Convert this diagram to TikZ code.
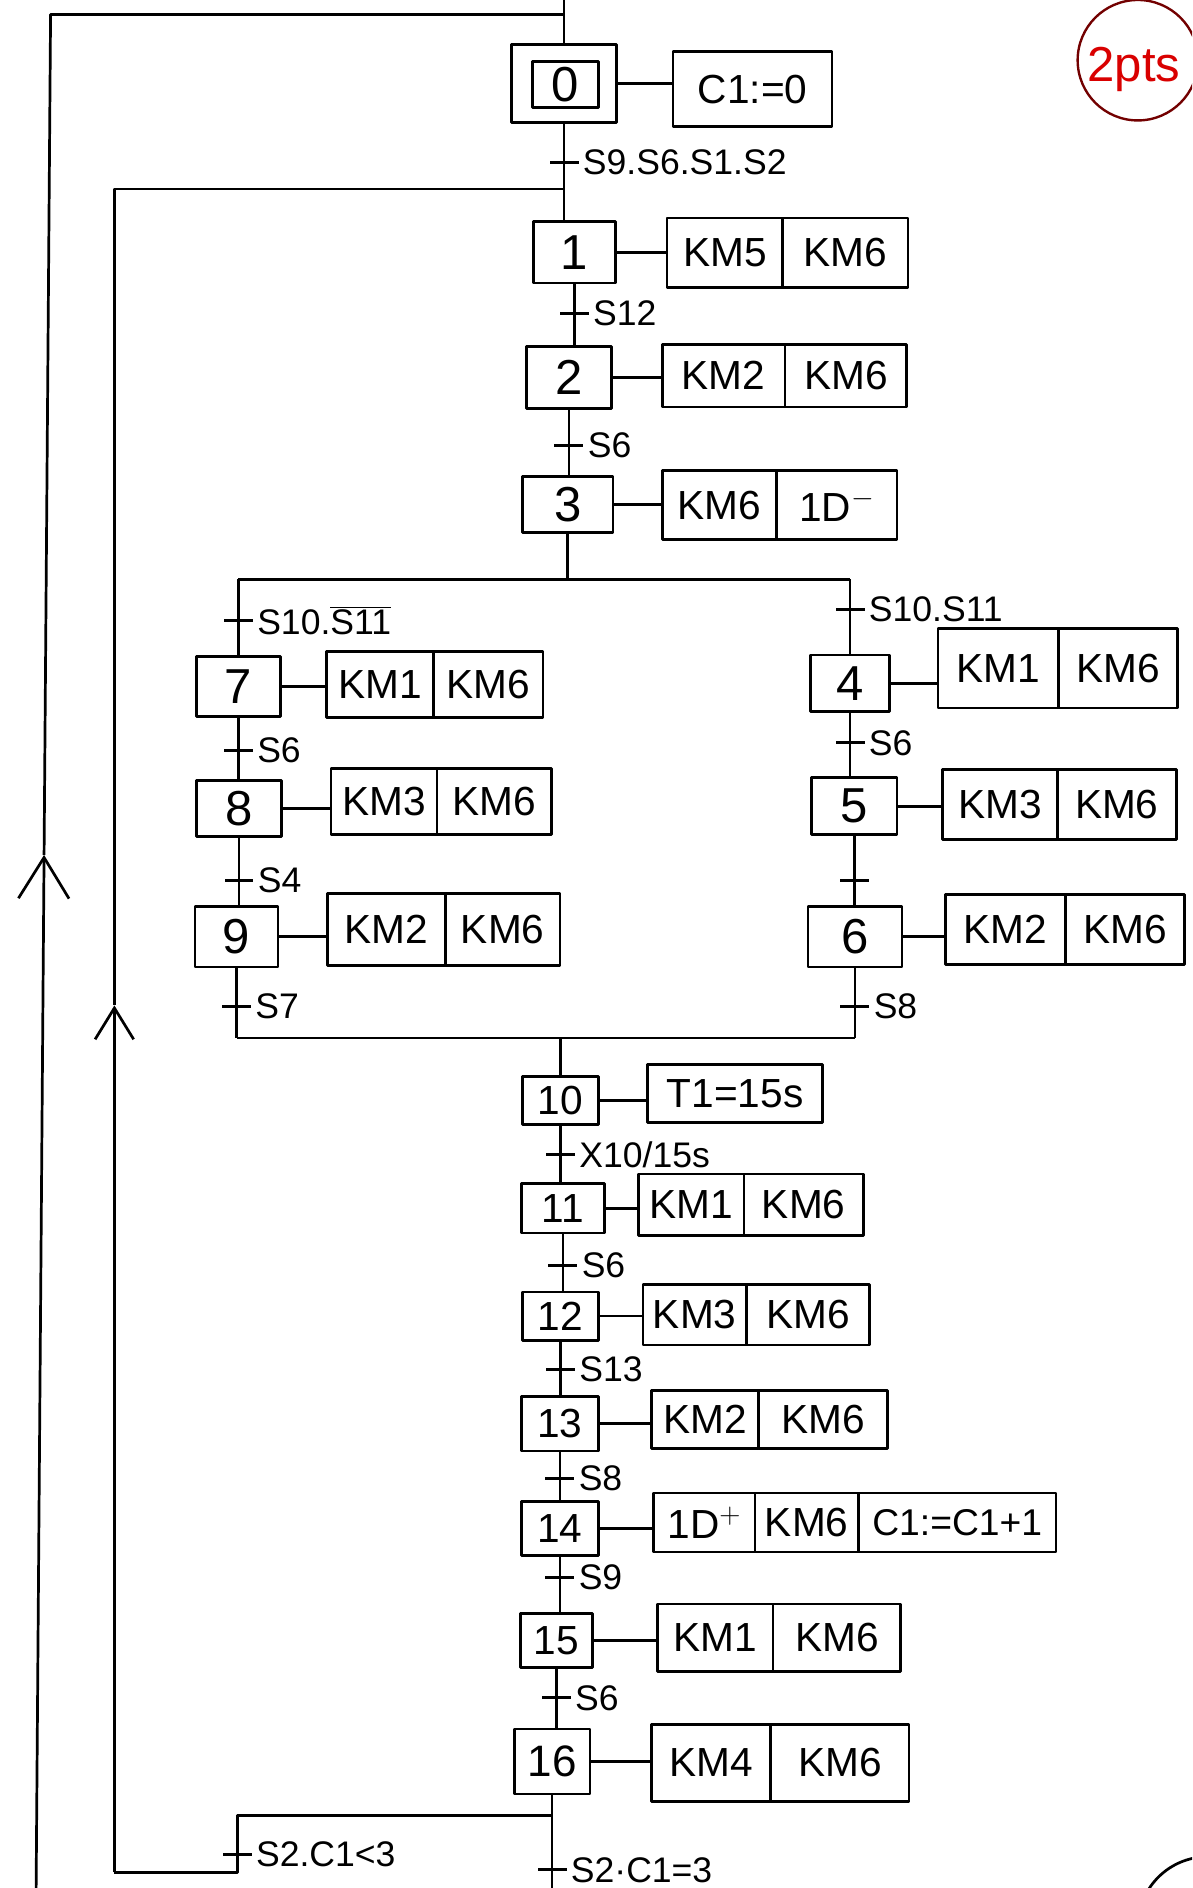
\documentclass[tikz,border=0pt]{standalone}
\usepackage{fontspec}
\setmainfont{Liberation Sans}
\usetikzlibrary{arrows.meta,calc}
\newcommand{\gstep}[6]{\node[stepbox, minimum width={(#4-#2)*0.025cm}, minimum height={(#5-#3)*0.025cm}] (#1) at ({(#2+#4)/2},{(#3+#5)/2}) {#6};}
\newcommand{\gact}[6]{\node[actbox, minimum width={(#4-#2)*0.025cm}, minimum height={(#5-#3)*0.025cm}] (#1) at ({(#2+#4)/2},{(#3+#5)/2}) {#6};}
\newcommand{\gtr}[4]{\node[trbar] (#1) at (#2,#3) {}; \node[trlab] (#1l) at (#1.east) {#4};}
\tikzset{
  stepbox/.style={draw, rectangle, line width=1.6pt, inner sep=0pt, font=\fontsize{29}{32}\selectfont},
  bigstep/.style={font=\fontsize{24}{27}\selectfont},
  actbox/.style={draw, rectangle, line width=1.6pt, inner sep=0pt, font=\fontsize{24}{28}\selectfont},
  trbar/.style={rectangle, fill=black, minimum width=0.6cm, minimum height=1.8pt, inner sep=0pt},
  trlab/.style={anchor=west, inner sep=1pt, font=\fontsize{21}{24}\selectfont},
}
\begin{document}
\begin{tikzpicture}[x=0.025cm, y=-0.025cm, line width=1.6pt, line join=round]
\useasboundingbox (0,0) rectangle (990,1568);
\fill[white] (0,0) rectangle (990,1568);
\clip (0,0) rectangle (990,1568);

% ---- steps and actions
\gstep{s0}{425}{37}{512}{102}{}
\gstep{s0in}{442}{51}{497}{89}{0}
\gact{a0}{559}{43}{691}{105}{C1:=0}
\gtr{t0}{468.5}{135}{S9.S6.S1.S2}

\gstep{s1}{443}{184}{511}{235}{1}
\gact{a1a}{554}{181}{650}{239}{KM5}
\gact{a1b}{650}{181}{754}{239}{KM6}
\gtr{t1}{477}{260}{S12}

\gstep{s2}{437}{288}{508}{339}{2}
\gact{a2a}{550}{286}{652}{338}{KM2}
\gact{a2b}{652}{286}{753}{338}{KM6}
\gtr{t2}{472.5}{370}{S6}

\gstep{s3}{434}{396}{509}{442}{3}
\gact{a3a}{550}{391}{645}{448}{KM6}
\gact{a3b}{645}{391}{745}{448}{1D$^{-}$}

% left branch
\gtr{t7in}{198}{515}{S10.$\overline{\hbox{S11}}$}
\gstep{s7}{163}{545}{233}{595}{7}
\gact{a7a}{271}{541}{360}{596}{KM1}
\gact{a7b}{360}{541}{451}{596}{KM6}
\gtr{t78}{198}{623}{S6}
\gstep{s8}{163}{648}{234}{695}{8}
\gact{a8a}{275}{638}{363}{693}{KM3}
\gact{a8b}{363}{638}{458}{693}{KM6}
\gtr{t89}{198.5}{731}{S4}
\gstep{s9}{162}{753}{231}{803}{9}
\gact{a9a}{272}{742}{370}{802}{KM2}
\gact{a9b}{370}{742}{465}{802}{KM6}
\gtr{t9}{196.5}{836}{S7}

% right branch
\gtr{t4in}{706}{506}{S10.S11}
\gstep{s4}{673}{544}{739}{591}{4}
\gact{a4a}{779}{522}{879}{588}{KM1}
\gact{a4b}{879}{522}{978}{588}{KM6}
\gtr{t45}{706}{617}{S6}
\gstep{s5}{674}{646}{745}{693}{5}
\gact{a5a}{783}{639}{878}{697}{KM3}
\gact{a5b}{878}{639}{977}{697}{KM6}
\gtr{t56}{709.5}{731}{}
\gstep{s6}{671}{753}{749}{803}{6}
\gact{a6a}{785}{743}{885}{801}{KM2}
\gact{a6b}{885}{743}{984}{801}{KM6}
\gtr{t6}{710}{836}{S8}

% lower sequence
\gstep{s10}{434}{894}{497}{934}{\tikzset{bigstep}\fontsize{24}{27}\selectfont 10}
\gact{a10}{538}{884}{683}{932}{T1=15s}
\gtr{t10}{465.5}{959}{X10/15s}
\gstep{s11}{433}{983}{502}{1024}{\fontsize{24}{27}\selectfont 11}
\gact{a11a}{530}{975}{618}{1026}{KM1}
\gact{a11b}{618}{975}{717}{1026}{KM6}
\gtr{t11}{467.5}{1051}{S6}
\gstep{s12}{434}{1073}{497}{1113}{\fontsize{24}{27}\selectfont 12}
\gact{a12a}{534}{1067}{620}{1117}{KM3}
\gact{a12b}{620}{1067}{722}{1117}{KM6}
\gtr{t12}{465.5}{1137}{S13}
\gstep{s13}{433}{1160}{497}{1205}{\fontsize{24}{27}\selectfont 13}
\gact{a13a}{541}{1155}{630}{1203}{KM2}
\gact{a13b}{630}{1155}{737}{1203}{KM6}
\gtr{t13}{465}{1228}{S8}
\gstep{s14}{433}{1247}{497}{1292}{\fontsize{24}{27}\selectfont 14}
\gact{a14a}{543}{1240}{627}{1289}{1D$^{+}$}
\gact{a14b}{627}{1240}{713}{1289}{KM6}
\gact{a14c}{713}{1240}{877}{1289}{\fontsize{22}{24}\selectfont C1:=C1+1}
\gtr{t14}{465}{1310}{S9}
\gstep{s15}{432}{1340}{492}{1385}{\fontsize{24}{27}\selectfont 15}
\gact{a15a}{546}{1332}{642}{1388}{KM1}
\gact{a15b}{642}{1332}{748}{1388}{KM6}
\gtr{t15}{462}{1410}{S6}
\gstep{s16}{427}{1436}{490}{1490}{\fontsize{26}{29}\selectfont 16}
\gact{a16a}{541}{1432}{640}{1496}{KM4}
\gact{a16b}{640}{1432}{755}{1496}{KM6}
\gtr{t16a}{197}{1540}{S2.C1<3}
\gtr{t16b}{458.5}{1553}{S2·C1=3}

% ---- action links
\foreach \s/\a in {s0/a0,s1/a1a,s2/a2a,s3/a3a,s7/a7a,s8/a8a,s9/a9a,s4/a4a,s5/a5a,s6/a6a,s10/a10,s11/a11a,s12/a12a,s13/a13a,s14/a14a,s15/a15a,s16/a16a}
  \draw (\s.east) -- (\s.east -| \a.west);

% ---- main sequence links
\draw (s0.south) -- (s0.south |- s1.north);
\draw (s1.south) -- (s1.south |- s2.north);
\draw (s2.south) -- (s2.south |- s3.north);
\coordinate (dL) at (198,481);
\coordinate (dR) at (706,481);
\draw (s3.south) -- (s3.south |- dL);
\draw (dL) -- (dR);
\draw (dL) -- (dL |- s7.north);
\draw (s7.south) -- (s7.south |- s8.north);
\draw (s8.south) -- (s8.south |- s9.north);
\draw (dR) -- (dR |- s4.north);
\draw (s4.south) -- (s4.south |- s5.north);
\draw (s5.south) -- (s5.south |- s6.north);
\coordinate (cL) at (196.5,862);
\coordinate (cR) at (710,862);
\draw (s9.south) -- (s9.south |- cL);
\draw (s6.south) -- (s6.south |- cR);
\draw (cL) -- (cR);
\draw (s10.north |- cL) -- (s10.north);
\draw (s10.south) -- (s10.south |- s11.north);
\draw (s11.south) -- (s11.south |- s12.north);
\draw (s12.south) -- (s12.south |- s13.north);
\draw (s13.south) -- (s13.south |- s14.north);
\draw (s14.south) -- (s14.south |- s15.north);
\draw (s15.south) -- (s15.south |- s16.north);
\coordinate (bR) at (458.5,1508);
\coordinate (bL) at (197,1508);
\coordinate (mbot) at (458.5,1568);
\draw (s16.south) -- (bR) -- (mbot);

% ---- inner loop (back to step 1)
\coordinate (bLb) at (197,1555);
\coordinate (ilB) at (95,1555);
\coordinate (ar2) at (95,835);
\coordinate (ilT) at (95,157);
\coordinate (jn) at (468.5,157);
\draw (bR) -- (bL) -- (bLb) -- (ilB);
\draw[-{Straight Barb[length=0.65cm,width=0.8cm]}] (ilB) -- (ar2);
\draw (ar2) -- (ilT) -- (jn);

% ---- outer loop (back to step 0)
\coordinate (botL) at (30,1568);
\coordinate (ar1) at (36.6,710);
\coordinate (topL) at (42,12);
\coordinate (topC) at (468.5,12);
\coordinate (topR) at (468.5,0);
\draw[-{Straight Barb[length=0.85cm,width=1.05cm]}] (botL) -- (ar1);
\draw (ar1) -- (topL) -- (topC);
\draw (topR) -- (s0.north);

% ---- marks in the margin
\node[draw=red!45!black, circle, line width=1.4pt, minimum size=2.5cm, inner sep=0pt] (grade) at (945,50) {};
\node[anchor=west, text=red!85!black, inner sep=0pt, font=\fontsize{29}{32}\selectfont] (gradetxt) at (902,58) {2pts};
\draw (1003,1600) circle (58);
\end{tikzpicture}
\end{document}
